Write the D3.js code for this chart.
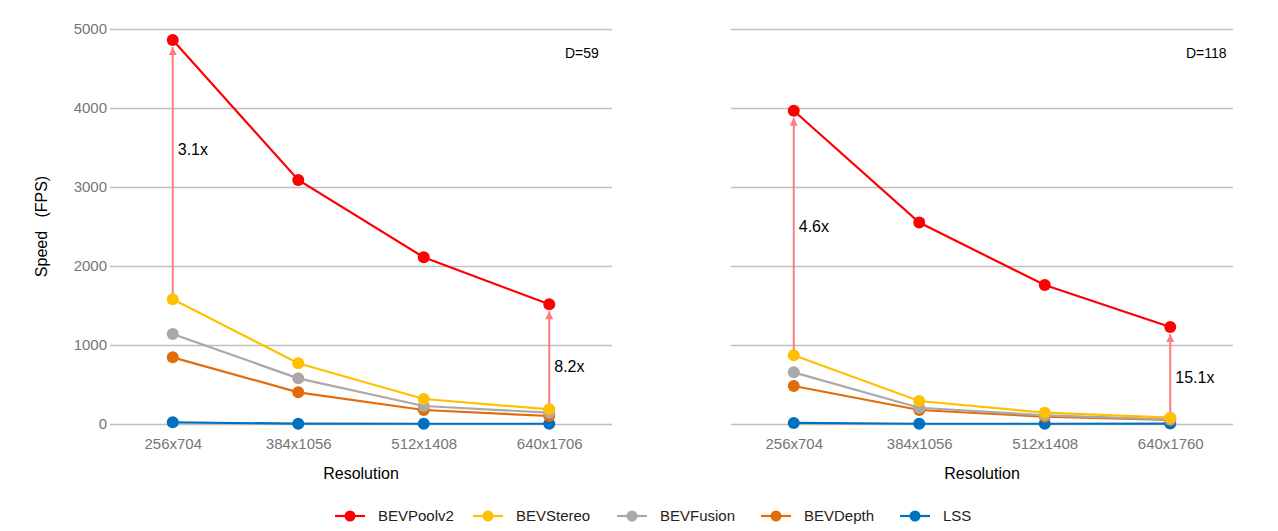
<!DOCTYPE html>
<html>
<head>
<meta charset="utf-8">
<script src="https://cdn.jsdelivr.net/npm/d3@7"></script>
<style>
  html, body { margin: 0; padding: 0; background: #fff; }
  svg { display: block; font-family: "Liberation Sans", Arial, sans-serif; }
</style>
</head>
<body>
<svg id="chart" width="1278" height="531"></svg>
<script>
// ---------- data ----------
const seriesNames = ["BEVPoolv2", "BEVStereo", "BEVFusion", "BEVDepth", "LSS"];
const seriesColors = ["#ff0000", "#ffc000", "#aaa8a8", "#e36c0a", "#0070c0"];

const leftCategories = ["256x704", "384x1056", "512x1408", "640x1706"];
const rightCategories = ["256x704", "384x1056", "512x1408", "640x1760"];

// D=59
const leftBEVPoolv2 = [4860, 3090, 2110, 1515];
const leftBEVStereo = [1578, 768, 316, 186];
const leftBEVFusion = [1139, 578, 228, 143];
const leftBEVDepth  = [844, 401, 177, 101];
const leftLSS       = [21, 4, 3, 3];

// D=118
const rightBEVPoolv2 = [3965, 2550, 1759, 1228];
const rightBEVStereo = [871, 291, 143, 80];
const rightBEVFusion = [654, 206, 110, 59];
const rightBEVDepth  = [481, 177, 93, 51];
const rightLSS       = [13, 3, 3, 5];

const yTicks = [0, 1000, 2000, 3000, 4000, 5000];

// speed-up annotations: category index, label, value level of the label
const leftArrows  = [{ idx: 0, label: "3.1x", at: 3480 }, { idx: 3, label: "8.2x", at: 730 }];
const rightArrows = [{ idx: 0, label: "4.6x", at: 2500 }, { idx: 3, label: "15.1x", at: 595 }];

// ---------- layout ----------
const svg = d3.select("#chart");
const plotTop = 29, plotBottom = 424;
const y = d3.scaleLinear().domain([0, 5000]).range([plotBottom, plotTop]);

const panels = [
  { x0: 110, x1: 612, cats: leftCategories, title: "D=59", showY: true,
    series: [leftBEVPoolv2, leftBEVStereo, leftBEVFusion, leftBEVDepth, leftLSS], arrows: leftArrows },
  { x0: 731, x1: 1233, cats: rightCategories, title: "D=118", showY: false,
    series: [rightBEVPoolv2, rightBEVStereo, rightBEVFusion, rightBEVDepth, rightLSS], arrows: rightArrows }
];

const arrowColor = "#ff7c80";
svg.append("defs").append("marker")
  .attr("id", "ah").attr("viewBox", "0 0 10 10").attr("refX", 10).attr("refY", 5)
  .attr("markerWidth", 10).attr("markerHeight", 8).attr("markerUnits", "userSpaceOnUse")
  .attr("orient", "auto")
  .append("path").attr("d", "M0,0L10,5L0,10Z").attr("fill", arrowColor);

panels.forEach(p => {
  const x = d3.scalePoint().domain(p.cats).range([p.x0, p.x1]).padding(0.5);
  const g = svg.append("g");

  // grid
  const yAxis = d3.axisLeft(y).tickValues(yTicks).tickSize(-(p.x1 - p.x0)).tickPadding(3)
    .tickFormat(p.showY ? d3.format("d") : () => "");
  const ga = g.append("g").attr("transform", `translate(${p.x0},0)`).call(yAxis);
  ga.select(".domain").remove();
  ga.selectAll(".tick line").attr("stroke", "#bfbfbf").attr("stroke-width", 1.3);
  ga.selectAll(".tick text").attr("fill", "#767676").attr("font-size", 15)
    .attr("font-family", "Liberation Sans, Arial, sans-serif");

  // x axis labels
  const xAxis = d3.axisBottom(x).tickSize(0).tickPadding(14);
  const gx = g.append("g").attr("transform", `translate(0,${plotBottom})`).call(xAxis);
  gx.select(".domain").remove();
  gx.selectAll(".tick text").attr("fill", "#767676").attr("font-size", 15)
    .attr("font-family", "Liberation Sans, Arial, sans-serif");

  // x title
  g.append("text").attr("x", (p.x0 + p.x1) / 2).attr("y", 479).attr("text-anchor", "middle")
    .attr("font-size", 16).attr("fill", "#000").text("Resolution");

  // panel label
  g.append("text").attr("x", p.x1 - 47).attr("y", 58).attr("text-anchor", "start")
    .attr("font-size", 14).attr("fill", "#000").text(p.title);

  // arrows (drawn beneath series)
  const red = p.series[0], yel = p.series[1];
  p.arrows.forEach(a => {
    const cx = x(p.cats[a.idx]);
    g.append("line").attr("x1", cx).attr("x2", cx)
      .attr("y1", y(yel[a.idx]) - 4).attr("y2", y(red[a.idx]) + 7)
      .attr("stroke", arrowColor).attr("stroke-width", 2).attr("marker-end", "url(#ah)");
    g.append("text").attr("x", cx + 5).attr("y", y(a.at)).attr("dy", "0.35em")
      .attr("font-size", 16).attr("fill", "#000").text(a.label);
  });

  // series (draw back to front so red on top)
  const line = d3.line().x((d, i) => x(p.cats[i])).y(d => y(d));
  for (let s = p.series.length - 1; s >= 0; s--) {
    const vals = p.series[s];
    g.append("path").datum(vals).attr("d", line).attr("fill", "none")
      .attr("stroke", seriesColors[s]).attr("stroke-width", 2.2);
    g.selectAll(null).data(vals).enter().append("circle")
      .attr("cx", (d, i) => x(p.cats[i])).attr("cy", d => y(d)).attr("r", 6)
      .attr("fill", seriesColors[s]);
  }
});

// y title
svg.append("text").attr("transform", `translate(47,${(plotTop + plotBottom) / 2}) rotate(-90)`)
  .attr("text-anchor", "middle").attr("font-size", 16).attr("fill", "#000")
  .attr("xml:space", "preserve").style("white-space", "pre").text("Speed   (FPS)");

// legend
const legendX = [335, 473, 617, 761, 900];
const lg = svg.append("g").attr("transform", "translate(0,516)");
seriesNames.forEach((n, i) => {
  const it = lg.append("g").attr("transform", `translate(${legendX[i]},0)`);
  it.append("line").attr("x1", 0).attr("x2", 30).attr("stroke", seriesColors[i]).attr("stroke-width", 2.2);
  it.append("circle").attr("cx", 15).attr("r", 5.5).attr("fill", seriesColors[i]);
  it.append("text").attr("x", 43).attr("dy", "0.35em").attr("font-size", 15)
    .attr("fill", "#222").text(n);
});
</script>
</body>
</html>
